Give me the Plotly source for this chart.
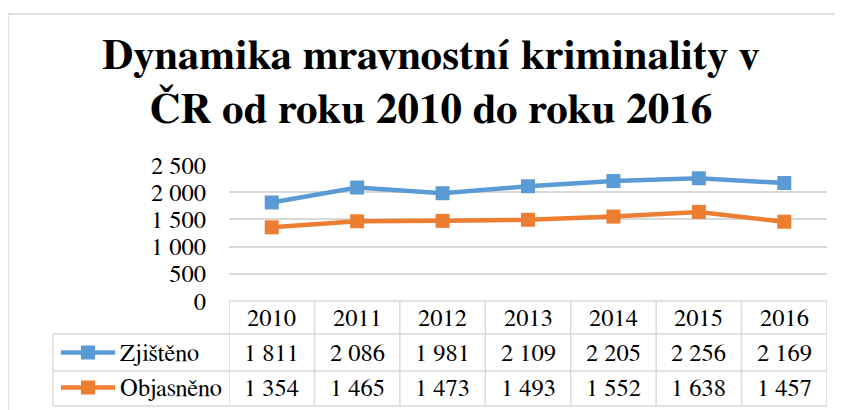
import plotly.graph_objects as go

years = [2010, 2011, 2012, 2013, 2014, 2015, 2016]
zjisteno = [1811, 2086, 1981, 2109, 2205, 2256, 2169]
objasneno = [1354, 1465, 1473, 1493, 1552, 1638, 1457]
series_names = ["Zjištěno", "Objasněno"]
series_colors = ["#5B9BD5", "#ED7D31"]
title_lines = ["Dynamika mravnostní kriminality v", "ČR od roku 2010 do roku 2016"]
y_ticks = [0, 500, 1000, 1500, 2000, 2500]

W, H = 843, 410
OFF = 8  # page body margin
FONT = "FreeSerif"
GRID = "#D9D9D9"


def px(x):
    return (x - OFF) / W


def py(y):
    return 1 - (y - OFF) / H


def fmt(v):
    return f"{v:,}".replace(",", " ")


plot_left, plot_right = 229, 827
plot_top, plot_bottom = 165, 301
row_lines = [301, 334, 371, 406]
legend_left = 53

fig = go.Figure()
for name, vals, col in zip(series_names, [zjisteno, objasneno], series_colors):
    fig.add_trace(go.Scatter(
        x=years, y=vals, name=name, mode="lines+markers",
        line=dict(color=col, width=4.5),
        marker=dict(symbol="square", size=14, color=col),
        showlegend=False,
    ))

shapes = []
shapes.append(dict(type="rect", xref="paper", yref="paper",
                   x0=px(8), x1=px(842), y0=py(440), y1=py(14),
                   line=dict(color=GRID, width=1.5)))
shapes.append(dict(type="line", xref="paper", yref="paper",
                   x0=px(plot_left), x1=px(plot_right), y0=py(row_lines[0]), y1=py(row_lines[0]),
                   line=dict(color=GRID, width=1.5)))
for r in row_lines[1:]:
    shapes.append(dict(type="line", xref="paper", yref="paper",
                       x0=px(legend_left), x1=px(plot_right), y0=py(r), y1=py(r),
                       line=dict(color=GRID, width=1.5)))
for k in range(len(years) + 1):
    xv = years[0] - 0.5 + k
    shapes.append(dict(type="line", xref="x", yref="paper",
                       x0=xv, x1=xv, y0=py(row_lines[0]), y1=py(row_lines[-1]),
                       line=dict(color=GRID, width=1.5)))
shapes.append(dict(type="line", xref="paper", yref="paper",
                   x0=px(legend_left), x1=px(legend_left), y0=py(row_lines[1]), y1=py(row_lines[-1]),
                   line=dict(color=GRID, width=1.5)))

annotations = []
for line, ytop in zip(title_lines, [33, 82]):
    annotations.append(dict(text=f"<b>{line}</b>", xref="paper", yref="paper",
                            x=px(431), y=py(ytop), xanchor="center", yanchor="top",
                            showarrow=False, font=dict(family=FONT, size=43, color="black")))

TS = 24.5
row_centers = [318.5, 353.5, 388.5]
for yr in years:
    annotations.append(dict(text=str(yr), xref="x", yref="paper", x=yr, y=py(row_centers[0]),
                            xanchor="center", yanchor="middle", showarrow=False,
                            font=dict(family=FONT, size=TS, color="black")))
for i, vals in enumerate([zjisteno, objasneno]):
    for yr, v in zip(years, vals):
        annotations.append(dict(text=fmt(v), xref="x", yref="paper", x=yr, y=py(row_centers[i + 1]),
                                xanchor="center", yanchor="middle", showarrow=False,
                                font=dict(family=FONT, size=TS, color="black")))
    yc = row_centers[i + 1] - 1
    shapes.append(dict(type="line", xref="paper", yref="paper",
                       x0=px(61), x1=px(115), y0=py(yc), y1=py(yc),
                       line=dict(color=series_colors[i], width=4.5)))
    shapes.append(dict(type="rect", xref="paper", yref="paper",
                       x0=px(81), x1=px(95), y0=py(yc + 7), y1=py(yc - 7),
                       line=dict(width=0), fillcolor=series_colors[i]))
    annotations.append(dict(text=series_names[i], xref="paper", yref="paper",
                            x=px(118), y=py(row_centers[i + 1]), xanchor="left", yanchor="middle",
                            showarrow=False, font=dict(family=FONT, size=TS, color="black")))

fig.update_layout(
    width=W, height=H,
    margin=dict(l=0, r=0, t=0, b=0, autoexpand=False),
    paper_bgcolor="white", plot_bgcolor="white",
    font=dict(family=FONT),
    showlegend=False,
    separators=", ",
    shapes=shapes, annotations=annotations,
    xaxis=dict(domain=[px(plot_left), px(plot_right)], range=[years[0] - 0.5, years[-1] + 0.5],
               showgrid=False, zeroline=False, showticklabels=False, showline=False,
               automargin=False, fixedrange=True),
    yaxis=dict(domain=[py(plot_bottom), py(plot_top)], range=[0, 2500],
               tickvals=y_ticks, tickformat=",d",
               showgrid=True, gridcolor=GRID, gridwidth=1.5, zeroline=False, showline=False,
               ticks="", ticklabelstandoff=22, automargin=False,
               tickfont=dict(family=FONT, size=TS, color="black"), fixedrange=True),
)

fig.write_html("out.html")
